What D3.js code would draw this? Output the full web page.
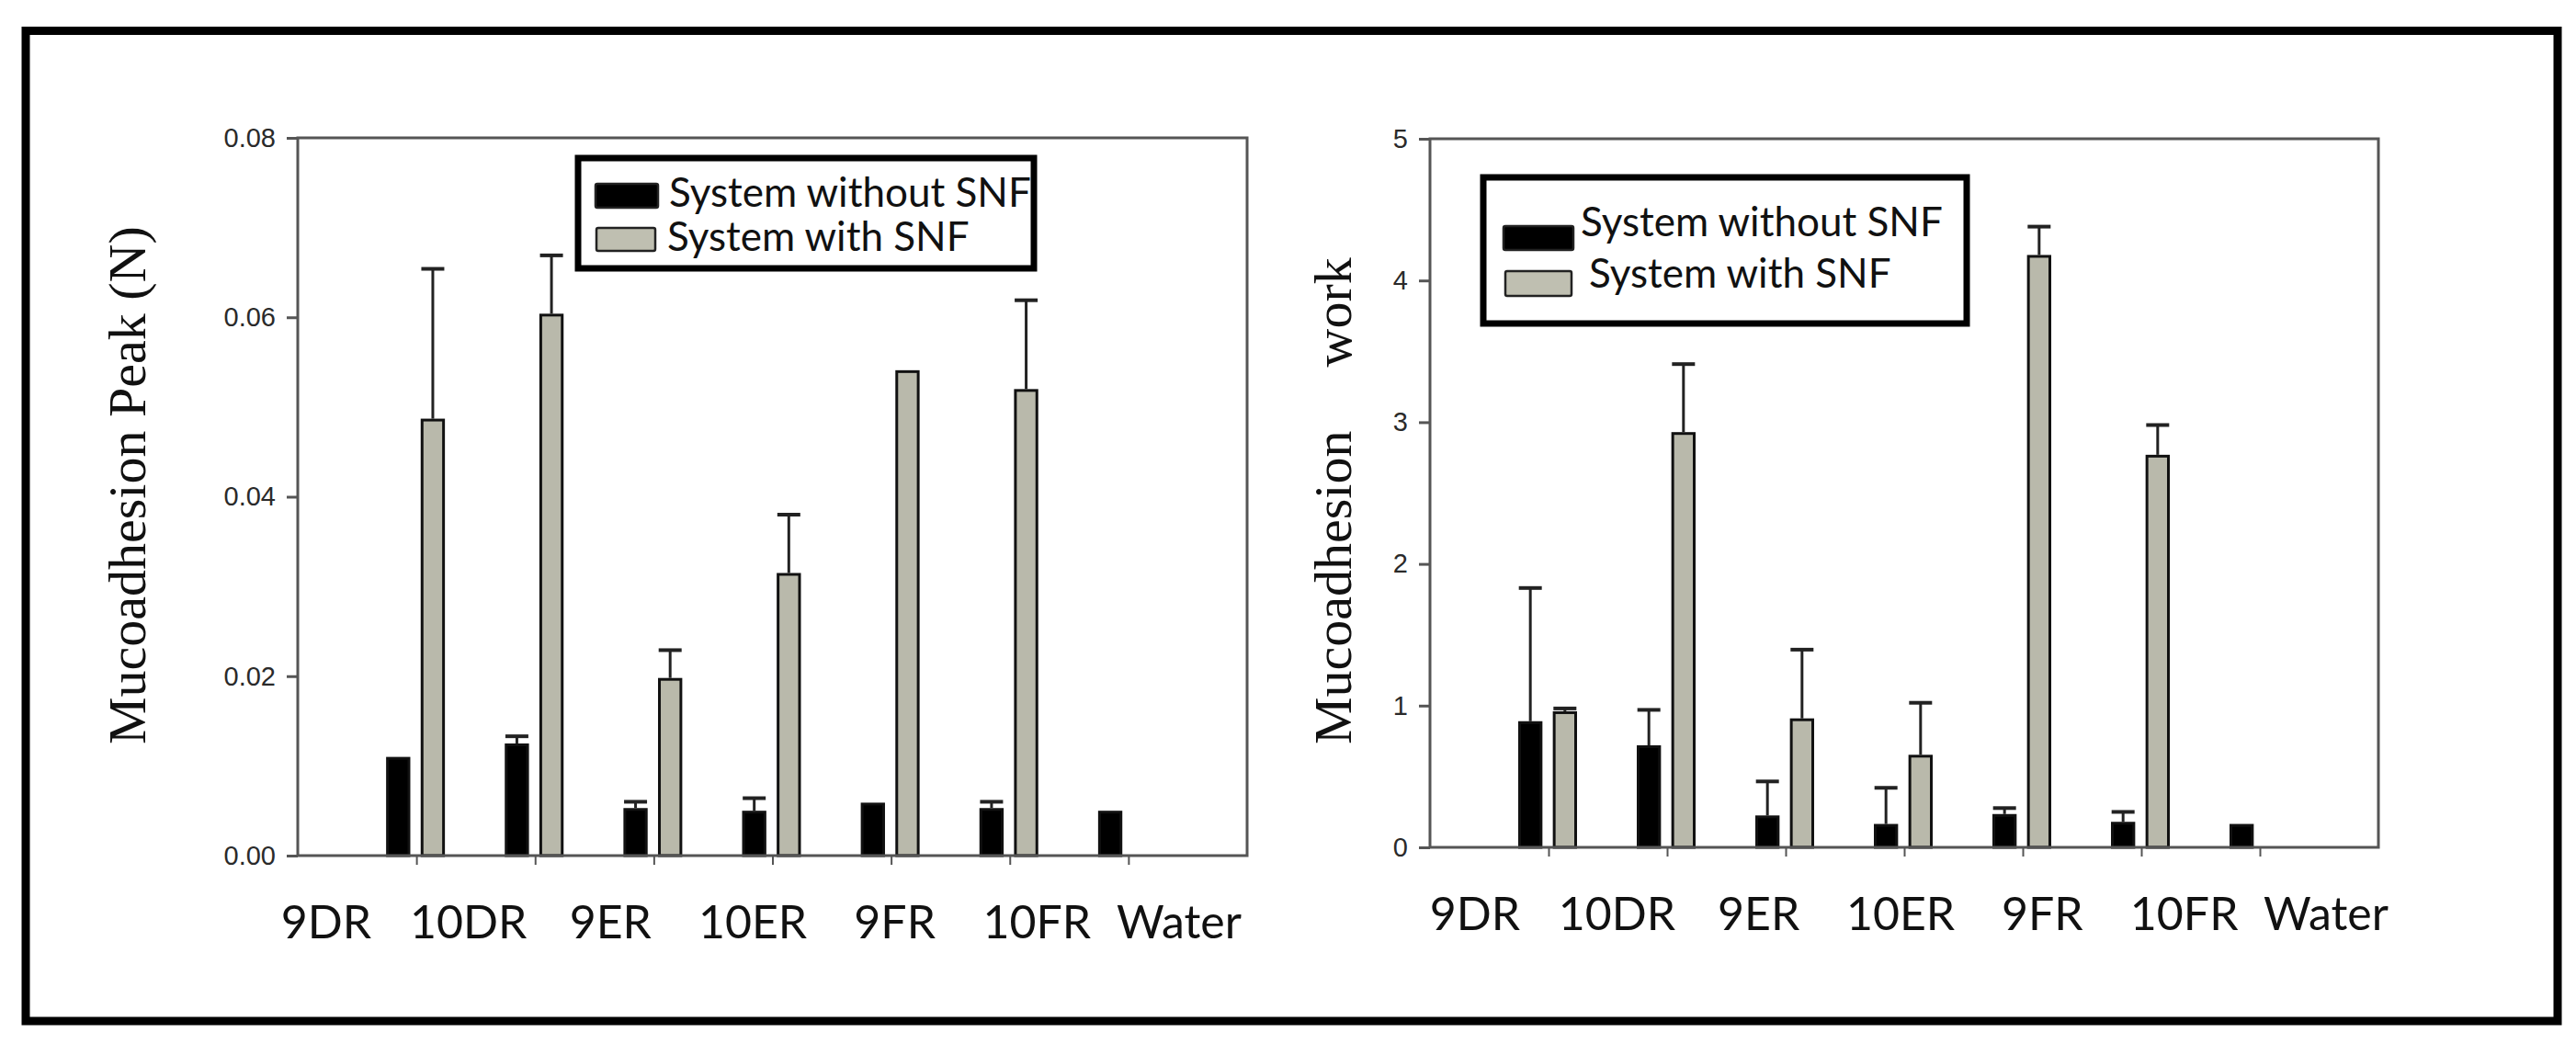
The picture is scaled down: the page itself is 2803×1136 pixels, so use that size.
<!DOCTYPE html>
<html>
<head>
<meta charset="utf-8">
<title>Mucoadhesion</title>
<script src="https://cdnjs.cloudflare.com/ajax/libs/d3/7.8.5/d3.min.js"></script>
<style>
  body { margin: 0; background: #fff; }
  svg { display: block; }
</style>
</head>
<body>
<script>
// categories shared by both panels
var categories = ["9DR", "10DR", "9ER", "10ER", "9FR", "10FR", "Water"];
var seriesNames = ["System without SNF", "System with SNF"];

// left panel: mucoadhesion peak (N), mean and upper SD
var peakWithout   = [0.011, 0.0125, 0.0053, 0.005, 0.0059, 0.0053, 0.005];
var peakWithoutSd = [null, 0.0008, 0.0007, 0.0014, null, 0.0007, null];
var peakWith      = [0.0487, 0.0604, 0.0198, 0.0315, 0.0541, 0.052, null];
var peakWithSd    = [0.0167, 0.0065, 0.0031, 0.0065, null, 0.0099, null];
var peakTicks     = [0, 0.02, 0.04, 0.06, 0.08];

// right panel: mucoadhesion work
var workWithout   = [0.89, 0.72, 0.225, 0.165, 0.235, 0.18, 0.165];
var workWithoutSd = [0.94, 0.25, 0.24, 0.255, 0.042, 0.07, null];
var workWith      = [0.96, 2.93, 0.91, 0.653, 4.18, 2.77, null];
var workWithSd    = [0.02, 0.48, 0.485, 0.367, 0.2, 0.21, null];
var workTicks     = [0, 1, 2, 3, 4, 5];

var svg = d3.select("body").append("svg")
    .attr("width", 2803)
    .attr("height", 1136);

// outer frame
svg.append("rect")
    .attr("x", 28).attr("y", 33.5)
    .attr("width", 2755).attr("height", 1077.5)
    .attr("fill", "none")
    .attr("stroke", "#000")
    .attr("stroke-width", 9);

function panel(p) {
    var g = svg.append("g");

    var y = d3.scaleLinear().domain([0, p.yMax]).range([p.bottom, p.top]);
    var x = d3.scalePoint().domain(categories).range([p.left, p.right]).padding(1);
    // offsets of the two bars around each tick
    var sub = d3.scaleBand().domain([0, 1]).range([-33, 31]).paddingInner(0.3);

    var rows = categories.map(function(c, i) {
        return [
            {cat: c, s: 0, v: p.without[i], sd: p.withoutSd[i]},
            {cat: c, s: 1, v: p.with[i], sd: p.withSd[i]}
        ];
    });
    var items = d3.merge(rows).filter(function(d) { return d.v != null; });

    // error bars (upper only)
    var errs = items.filter(function(d) { return d.sd != null; });
    g.selectAll(".err").data(errs).enter().append("line")
        .attr("x1", function(d) { return x(d.cat) + sub(d.s) + sub.bandwidth() / 2; })
        .attr("x2", function(d) { return x(d.cat) + sub(d.s) + sub.bandwidth() / 2; })
        .attr("y1", function(d) { return y(d.v); })
        .attr("y2", function(d) { return y(d.v + d.sd); })
        .attr("stroke", "#222").attr("stroke-width", 3);
    g.selectAll(".cap").data(errs).enter().append("line")
        .attr("x1", function(d) { return x(d.cat) + sub(d.s) + sub.bandwidth() / 2 - 12.5; })
        .attr("x2", function(d) { return x(d.cat) + sub(d.s) + sub.bandwidth() / 2 + 12.5; })
        .attr("y1", function(d) { return y(d.v + d.sd); })
        .attr("y2", function(d) { return y(d.v + d.sd); })
        .attr("stroke", "#222").attr("stroke-width", 4);

    // bars
    g.selectAll(".bar").data(items).enter().append("rect")
        .attr("x", function(d) { return x(d.cat) + sub(d.s) + 1.5; })
        .attr("y", function(d) { return y(d.v) + 1.5; })
        .attr("width", sub.bandwidth() - 3)
        .attr("height", function(d) { return Math.max(0, y(0) - y(d.v) - 1.5); })
        .attr("fill", function(d) { return d.s === 0 ? "#000" : "#b9b9ab"; })
        .attr("stroke", "#111")
        .attr("stroke-width", 3);

    // plot box
    g.append("rect")
        .attr("x", p.left).attr("y", p.top)
        .attr("width", p.right - p.left).attr("height", p.bottom - p.top)
        .attr("fill", "none").attr("stroke", "#555").attr("stroke-width", 3);

    var yAxis = g.append("g")
        .attr("transform", "translate(" + p.left + ",0)")
        .call(d3.axisLeft(y).tickValues(p.ticks).tickFormat(p.fmt).tickSize(12).tickPadding(12));
    yAxis.select(".domain").remove();
    yAxis.selectAll(".tick line").attr("stroke", "#555").attr("stroke-width", 3);
    yAxis.selectAll(".tick text")
        .attr("font-family", "'Liberation Sans', Arial, sans-serif")
        .attr("font-size", 29)
        .attr("fill", "#2a2a2a");

    var xAxis = g.append("g")
        .attr("transform", "translate(0," + p.bottom + ")")
        .call(d3.axisBottom(x).tickSize(10).tickSizeOuter(0).tickFormat(""));
    xAxis.select(".domain").remove();
    xAxis.selectAll(".tick line").attr("stroke", "#555").attr("stroke-width", 2);

    // category labels sit on their own row under the axis
    var lx = d3.scalePoint().domain(categories).range(p.labelRange);
    g.selectAll(".cat").data(categories).enter().append("text")
        .attr("x", function(d) { return lx(d); })
        .attr("y", p.labelY)
        .attr("text-anchor", "middle")
        .attr("font-family", "Lato, 'Open Sans', sans-serif")
        .attr("font-size", 50)
        .attr("fill", "#111")
        .text(function(d) { return d; });

    // y title, reading upward from p.titleY
    var t = g.append("text")
        .attr("transform", "translate(" + p.titleX + "," + p.titleY + ") rotate(-90)")
        .attr("font-family", "'Liberation Serif', 'Times New Roman', serif")
        .attr("font-size", 58)
        .attr("fill", "#111");
    t.append("tspan").text(p.title[0]);
    if (p.title.length > 1) t.append("tspan").attr("dx", p.titleGap).text(p.title[1]);

    // legend
    var L = p.legend;
    g.append("rect")
        .attr("x", L.x).attr("y", L.y).attr("width", L.w).attr("height", L.h)
        .attr("fill", "#fff").attr("stroke", "#000").attr("stroke-width", 7);
    seriesNames.forEach(function(name, i) {
        g.append("rect")
            .attr("x", L.sw[i][0]).attr("y", L.sw[i][1])
            .attr("width", L.sw[i][2]).attr("height", L.sw[i][3])
            .attr("fill", i === 0 ? "#000" : "#bfbfb1")
            .attr("stroke", "#222").attr("stroke-width", 2.5)
            .attr("rx", 2);
        g.append("text")
            .attr("x", L.tx[i][0]).attr("y", L.tx[i][1])
            .attr("font-family", "Lato, 'Open Sans', sans-serif")
            .attr("font-size", 44)
            .attr("fill", "#111")
            .text(name);
    });
}

panel({
    left: 324, right: 1357, top: 150, bottom: 931, yMax: 0.08,
    without: peakWithout, withoutSd: peakWithoutSd, with: peakWith, withSd: peakWithSd,
    ticks: peakTicks, fmt: d3.format(".2f"),
    labelRange: [355, 1283], labelY: 1021,
    title: ["Mucoadhesion Peak (N)"], titleX: 158, titleY: 810,
    legend: {x: 629, y: 172, w: 496, h: 120,
             sw: [[648, 200, 68, 26], [649, 248, 64, 25]],
             tx: [[728, 225], [726, 273]]}
});

panel({
    left: 1556, right: 2588, top: 151, bottom: 922, yMax: 5,
    without: workWithout, withoutSd: workWithoutSd, with: workWith, withSd: workWithSd,
    ticks: workTicks, fmt: d3.format("d"),
    labelRange: [1605, 2531], labelY: 1012,
    title: ["Mucoadhesion", "work"], titleGap: 69, titleX: 1470, titleY: 810,
    legend: {x: 1614, y: 193, w: 526, h: 159,
             sw: [[1636, 246, 76, 26], [1638, 295, 72, 27]],
             tx: [[1720, 257], [1729, 313]]}
});
</script>
</body>
</html>
